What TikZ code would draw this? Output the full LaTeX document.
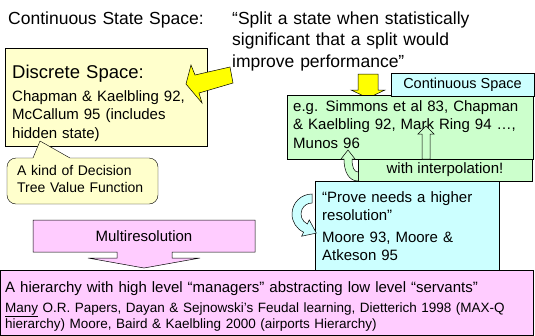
\documentclass[tikz,border=0pt]{standalone}
\usepackage{fontspec}
\setmainfont{Liberation Sans}
\usetikzlibrary{calc}

\definecolor{paleyellow}{HTML}{FFFFCC}
\definecolor{palegreen}{HTML}{CCFFCC}
\definecolor{palecyan}{HTML}{CCFFFF}
\definecolor{palepink}{HTML}{FFCCFF}
\definecolor{arrowyellow}{HTML}{FFFF00}

\begin{document}
\begin{tikzpicture}[x=1pt,y=-1pt]

\def\headsize{\fontsize{17.5}{21.5}\selectfont}
\def\bigsize{\fontsize{18.5}{21.5}\selectfont}
\def\bodysize{\fontsize{15}{18.5}\selectfont}
\def\smallsize{\fontsize{13.5}{16.5}\selectfont}

\tikzset{box/.style = {draw, anchor=north west, inner sep=0pt, outer sep=0pt},
         txt/.style = {anchor=base west, inner sep=0pt, align=left},
         blockarrow/.style = {draw, line width=0.5pt, line join=miter}}

\useasboundingbox (0,0) rectangle (535,335);

% heading
\node[txt, font=\headsize, text width=220pt] (title) at (8,24) {Continuous State Space:};
\node[txt, font=\headsize, text width=300pt] (quote) at (232,24)
  {“Split a state when statistically\\significant that a split would\\improve performance”};

% discrete space
\node[box, fill=paleyellow, minimum width=202pt, minimum height=98pt] (discrete) at (5,48) {};
\node[txt, font=\bigsize, text width=195pt] (discretehead) at (12,78) {Discrete Space:};
\node[txt, font=\bodysize, text width=195pt] (discretetxt) at (12,101)
  {Chapman \& Kaelbling 92,\\McCallum 95 (includes\\hidden state)};

\draw[fill=paleyellow] (7,181) [rounded corners=9pt] -- (7,158) [sharp corners] -- (33,158)
  -- (40,141) -- (70,158) [rounded corners=9pt] -- (158,158) -- (158,204) -- (7,204) -- cycle;
\node[txt, font=\fontsize{14}{17}\selectfont, text width=140pt] (kind) at (17,175)
  {A kind of Decision\\Tree Value Function};

\draw[blockarrow, fill=arrowyellow] (233,83) -- (230,67) -- (195,75) -- (191,65) -- (186,84)
  -- (202,103) -- (199,93) -- cycle;

% continuous space
\draw[blockarrow, fill=arrowyellow] (358,74) -- (378,74) -- (378,90) -- (385,90) -- (368,98)
  -- (351,90) -- (358,90) -- cycle;

\node[box, fill=palegreen, minimum width=246pt, minimum height=64pt] (contbox) at (287,95) {};
\node[box, fill=palecyan, minimum width=143pt, minimum height=23pt, font=\fontsize{14.5}{17}\selectfont]
  (contspace) at (391,73) {Continuous Space};
\node[txt, font=\bodysize, text width=240pt] (conttxt) at (293,111)
  {e.g. Simmons et al 83, Chapman\\\& Kaelbling 92, Mark Ring 94 …,\\Munos 96};

\node[box, fill=palegreen, minimum width=174pt, minimum height=22pt, font=\bodysize]
  (interp) at (358,159) {with interpolation!};

\draw[blockarrow, fill=palegreen] (422,159) -- (422,134) -- (418,134) -- (426,126) -- (434,134)
  -- (430,134) -- (430,159) -- cycle;
\draw[blockarrow, fill=palegreen] (358,181) .. controls (349,181) and (344,172) .. (344,159)
  -- (341,159) -- (348,150) -- (355,159) -- (352,159) .. controls (352,167) and (354,172) .. (358,172);

% higher resolution
\node[box, fill=palecyan, minimum width=184pt, minimum height=94pt] (prove) at (315,181) {};
\node[txt, font=\bodysize, text width=180pt] (provetxt) at (322,202) {“Prove needs a higher\\resolution”};
\node[txt, font=\bodysize, text width=180pt] (mooretxt) at (322,242) {Moore 93, Moore \&\\Atkeson 95};

\coordinate (cc) at (312,214);
\draw[blockarrow, fill=palecyan] (cc) ++(270:20) arc[start angle=270, end angle=115, radius=20]
  -- ($(cc)+(115:24.5)$) -- ($(cc)+(115:15.5)+(25:12)$) -- ($(cc)+(115:6.5)$)
  -- ($(cc)+(115:11)$) arc[start angle=115, end angle=270, radius=11] -- cycle;

% multiresolution
\draw[blockarrow, fill=palepink] (33,220) -- (255,220) -- (255,252) -- (172,252) -- (172,258)
  -- (200,258) -- (144,268) -- (88,258) -- (117,258) -- (117,252) -- (33,252) -- cycle;
\node[font=\bodysize, inner sep=0pt] (multires) at (144,236) {Multiresolution};

\node[box, fill=palepink, minimum width=533pt, minimum height=65pt] (hierarchy) at (0,270) {};
\node[txt, font=\bodysize, text width=530pt] (hierhead) at (5,292)
  {A hierarchy with high level “managers” abstracting low level “servants”};
\node[txt, font=\smallsize, text width=530pt] (hiertxt) at (5,312)
  {\underline{Many} O.R. Papers, Dayan \& Sejnowski’s Feudal learning, Dietterich 1998 (MAX-Q\\hierarchy) Moore, Baird \& Kaelbling 2000 (airports Hierarchy)};

\end{tikzpicture}
\end{document}
